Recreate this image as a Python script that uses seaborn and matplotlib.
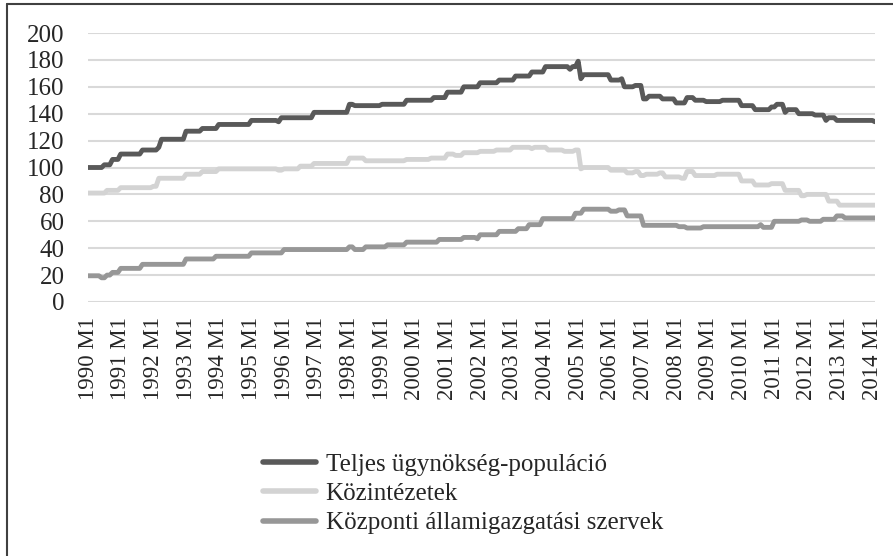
import numpy as np
import pandas as pd
from matplotlib import pyplot as plt
from matplotlib.lines import Line2D
import seaborn as sns

sns.set_theme(style="white")
plt.rcParams['font.family'] = ['Liberation Serif', 'DejaVu Serif']

# havi adatok 1990 M1 - 2014 M2, lépcsős szakaszokban: (érték, hónapok száma)
series_names = ["Teljes ügynökség-populáció", "Közintézetek", "Központi államigazgatási szervek"]

teljes_vals = [100, 102, 106, 110, 113, 115, 121, 127, 129, 132, 135, 134, 137, 141, 147, 146, 147, 150,
               152, 156, 160, 163, 165, 168, 171, 175, 173, 175, 179, 166, 169, 165, 166, 160, 161, 151,
               153, 151, 148, 152, 150, 149, 150, 146, 143, 145, 147, 141, 143, 140, 139, 135, 137, 135, 134]
teljes_len = [6, 3, 3, 8, 6, 1, 9, 6, 6, 12, 10, 1, 12, 13, 2, 10, 9, 10,
              5, 6, 6, 7, 6, 6, 5, 9, 1, 2, 1, 1, 10, 4, 1, 4, 3, 2,
              5, 5, 4, 3, 4, 6, 7, 5, 6, 2, 3, 1, 4, 6, 4, 1, 3, 14, 1]

kozint_vals = [81, 83, 85, 86, 92, 95, 97, 99, 98, 99, 101, 103, 107, 105, 106, 107, 110, 109, 111, 112,
               113, 115, 114, 115, 113, 112, 113, 99, 100, 98, 96, 97, 94, 95, 96, 93, 92, 97, 94, 95,
               90, 87, 88, 83, 79, 80, 75, 72]
kozint_len = [7, 5, 12, 2, 10, 6, 6, 22, 2, 6, 5, 13, 6, 15, 9, 6, 3, 3, 6, 6,
              6, 7, 1, 5, 6, 4, 2, 1, 10, 6, 3, 2, 2, 5, 2, 6, 2, 3, 8, 9,
              5, 6, 5, 6, 2, 8, 4, 14]

kozp_vals = [19.5, 18, 20, 22, 25, 28, 32, 34, 36.5, 39, 41, 39, 41, 42.5, 44.5, 46.5, 48, 47, 50, 52.5,
             54.5, 57.5, 62, 66, 69, 67.5, 68.5, 64, 57, 56, 55, 56, 57.5, 55.5, 60, 61, 60, 61.5, 64, 62.5]
kozp_len = [5, 2, 2, 3, 8, 16, 11, 13, 12, 24, 2, 4, 8, 7, 12, 9, 5, 1, 7, 7,
            4, 5, 12, 3, 10, 3, 3, 6, 13, 3, 6, 21, 1, 4, 10, 3, 5, 5, 3, 12]

years = list(range(1990, 2015))
tick_labels = [f"{y} M1" for y in years]

colors = ["#595959", "#d3d3d3", "#979797"]

frames = []
for name, vals, lens in zip(series_names,
                            [teljes_vals, kozint_vals, kozp_vals],
                            [teljes_len, kozint_len, kozp_len]):
    v = np.repeat(vals, lens)
    frames.append(pd.DataFrame({"honap": np.arange(len(v)), "ertek": v, "sorozat": name}))
df = pd.concat(frames, ignore_index=True)
n_months = df["honap"].max()

fig = plt.figure(figsize=(8.93, 5.56), dpi=100)
ax = fig.add_axes([88 / 893, (556 - 302) / 556, (875 - 88) / 893, (302 - 33) / 556])

sns.lineplot(data=df, x="honap", y="ertek", hue="sorozat", hue_order=series_names,
             palette=colors, linewidth=3.5, ax=ax, legend=False,
             solid_capstyle="round", solid_joinstyle="round")

ax.set_xlim(0, n_months)
ax.set_ylim(0, 200)
ax.set_yticks(range(0, 201, 20))
ax.set_xticks([12 * i for i in range(len(years))])
ax.set_xticklabels(tick_labels, rotation=90, fontsize=16.5)
ax.tick_params(axis="y", labelsize=18, length=0, pad=17)
ax.tick_params(axis="x", length=0, pad=11)
ax.set_xlabel("")
ax.set_ylabel("")
ax.yaxis.grid(True, color="#d9d9d9", linewidth=1.5)
ax.set_axisbelow(True)
for s in ax.spines.values():
    s.set_visible(False)

handles = [Line2D([], [], color=c, linewidth=4, solid_capstyle="round") for c in colors]
fig.legend(handles, series_names, loc="upper left", bbox_to_anchor=(263 / 893, 1 - 453 / 556),
           frameon=False, fontsize=18, handlelength=2.1, handletextpad=0.4,
           labelspacing=0.28, borderpad=0, borderaxespad=0)

# keret (bal és felső vonal)
fig.add_artist(Line2D([6.5 / 893, 6.5 / 893], [0, 1 - 4 / 556], transform=fig.transFigure,
                      color="#404040", linewidth=1.5))
fig.add_artist(Line2D([6.5 / 893, 1], [1 - 4 / 556, 1 - 4 / 556], transform=fig.transFigure,
                      color="#404040", linewidth=1.5))

fig.savefig("out.png", dpi=100)
